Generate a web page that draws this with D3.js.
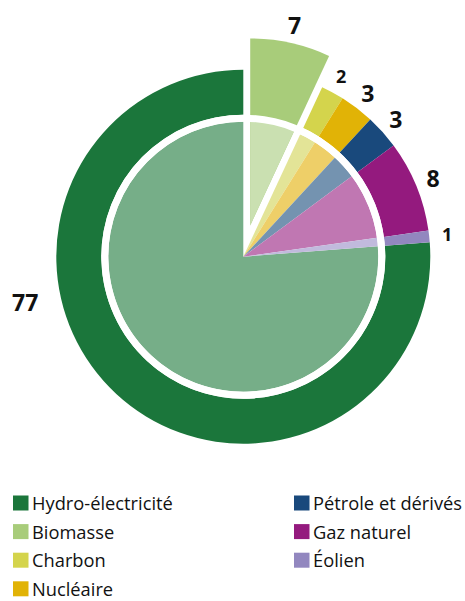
<!DOCTYPE html>
<html>
<head>
<meta charset="utf-8">
<script src="https://cdn.jsdelivr.net/npm/d3@7"></script>
<style>
  body { margin: 0; background: #fff; }
  svg { display: block; }
</style>
</head>
<body>
<div id="chart"></div>
<script>
// -----------------------------
// DATA
// -----------------------------
const sources = ["Hydro-électricité", "Biomasse", "Charbon", "Nucléaire", "Pétrole et dérivés", "Gaz naturel", "Éolien"];
const shares = [77, 7, 2, 3, 3, 8, 1];
const darkColors = ["#1b763b", "#a8cc7a", "#d4d44c", "#e1b306", "#19497c", "#941a7e", "#9287bf"];
const lightColors = ["#76ae88", "#cae0b1", "#e3e497", "#eecf68", "#7493b0", "#c077b2", "#c1badd"];
const explodedSource = "Biomasse";

const width = 465, height = 601;
const cx = 243.3, cy = 256.7;
const outerR = 187, ringInnerR = 142, pieR = 135, explode = 32;

const svg = d3.select("#chart").append("svg")
    .attr("width", width)
    .attr("height", height);

const data = sources.map((s, i) => ({ name: s, value: shares[i], dark: darkColors[i], light: lightColors[i] }));

// start so that the first slice after hydro sits at 12 o'clock
const total = d3.sum(shares);
const start = -2 * Math.PI * shares[0] / total;
const pie = d3.pie().sort(null).value(d => d.value)
    .startAngle(start).endAngle(start + 2 * Math.PI);
const arcs = pie(data);

const g = svg.append("g").attr("transform", `translate(${cx},${cy})`);

const ringArc = d3.arc().innerRadius(ringInnerR).outerRadius(outerR);
const innerArc = d3.arc().innerRadius(0).outerRadius(pieR);
const fullArc = d3.arc().innerRadius(0).outerRadius(outerR);

const normal = arcs.filter(d => d.data.name !== explodedSource);
const exploded = arcs.filter(d => d.data.name === explodedSource);

// -----------------------------
// NORMAL SLICES
// -----------------------------
g.selectAll(".ring").data(normal).enter().append("path")
    .attr("d", ringArc).attr("fill", d => d.data.dark);

g.selectAll(".inner").data(normal).enter().append("path")
    .attr("d", innerArc).attr("fill", d => d.data.light);

// -----------------------------
// EXPLODED SLICE
// -----------------------------
svg.append("defs").append("clipPath").attr("id", "innerClip")
    .append("circle").attr("r", (pieR + ringInnerR) / 2);

const shift = d => {
    const a = (d.startAngle + d.endAngle) / 2;
    return `translate(${explode * Math.sin(a)},${-explode * Math.cos(a)})`;
};

g.selectAll(".exp-dark").data(exploded).enter().append("path")
    .attr("transform", shift)
    .attr("d", fullArc).attr("fill", d => d.data.dark);

g.append("g").attr("clip-path", "url(#innerClip)")
    .selectAll("path").data(exploded).enter().append("path")
    .attr("transform", shift)
    .attr("d", fullArc).attr("fill", d => d.data.light);

// white separator circle
g.append("circle")
    .attr("r", (pieR + ringInnerR) / 2)
    .attr("fill", "none")
    .attr("stroke", "#fff")
    .attr("stroke-width", ringInnerR - pieR);

// -----------------------------
// VALUE LABELS
// -----------------------------
const labelArc = d3.arc().innerRadius(205).outerRadius(205);

g.selectAll(".val").data(arcs).enter().append("text")
    .attr("transform", d => {
        if (d.data.name === sources[0]) {
            const a = -102 * Math.PI / 180;
            return `translate(${223 * Math.sin(a)},${-223 * Math.cos(a)})`;
        }
        let [x, y] = labelArc.centroid(d);
        if (d.data.name === explodedSource) {
            const a = (d.startAngle + d.endAngle) / 2;
            x += explode * Math.sin(a);
            y -= explode * Math.cos(a);
        }
        return `translate(${x},${y})`;
    })
    .attr("text-anchor", "middle")
    .attr("dy", "0.36em")
    .style("font-family", "'Open Sans', sans-serif")
    .style("font-weight", "bold")
    .style("font-size", d => d.value < 3 ? "18px" : "23px")
    .attr("fill", "#111")
    .text(d => d.value);

// -----------------------------
// LEGEND
// -----------------------------
const legend = svg.append("g");
const rowH = 28.6;

const items = legend.selectAll(".item").data(data).enter().append("g")
    .attr("transform", (d, i) => {
        const col = i < 4 ? 0 : 1;
        const row = i < 4 ? i : i - 4;
        return `translate(${col === 0 ? 13 : 294},${495.5 + row * rowH})`;
    });

items.append("rect")
    .attr("width", 15.5).attr("height", 15)
    .attr("fill", d => d.dark);

items.append("text")
    .attr("x", 19)
    .attr("y", 14.4)
    .style("font-family", "'Open Sans', sans-serif")
    .style("font-size", "18.3px")
    .attr("fill", "#111")
    .text(d => d.name);
</script>
</body>
</html>
